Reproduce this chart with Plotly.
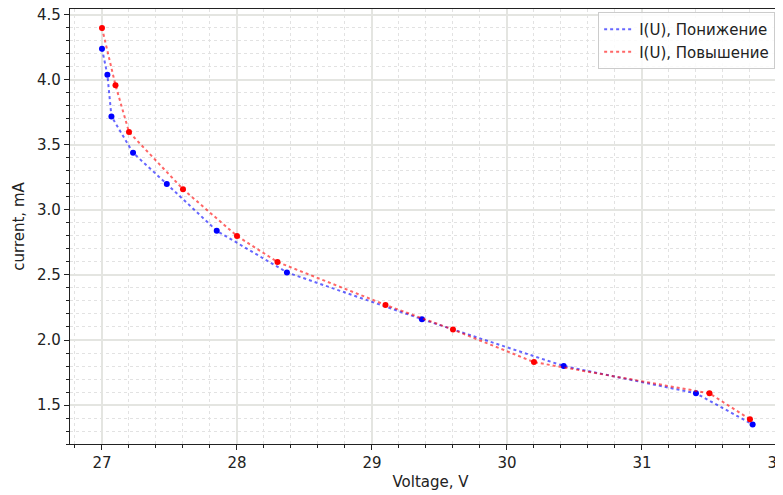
import plotly.graph_objects as go

# Decreasing voltage series (Понижение)
u_down = [27.00, 27.04, 27.07, 27.23, 27.48, 27.85, 28.37, 29.37, 30.42, 31.40, 31.82]
i_down = [4.24, 4.04, 3.72, 3.44, 3.20, 2.84, 2.52, 2.16, 1.80, 1.59, 1.35]

# Increasing voltage series (Повышение)
u_up = [27.00, 27.10, 27.20, 27.60, 28.00, 28.30, 29.10, 29.60, 30.20, 31.50, 31.80]
i_up = [4.40, 3.96, 3.60, 3.16, 2.80, 2.60, 2.27, 2.08, 1.83, 1.59, 1.39]

FONT = "DejaVu Sans"
FS = 15

fig = go.Figure()
fig.add_trace(go.Scatter(
    x=u_down, y=i_down, mode="lines",
    line=dict(color="rgba(0,0,255,0.6)", width=2, dash="dot"),
    name="I(U), Понижение", legendgroup="d"))
fig.add_trace(go.Scatter(
    x=u_down, y=i_down, mode="markers",
    marker=dict(color="blue", size=6),
    showlegend=False, legendgroup="d"))
fig.add_trace(go.Scatter(
    x=u_up, y=i_up, mode="lines",
    line=dict(color="rgba(255,0,0,0.6)", width=2, dash="dot"),
    name="I(U), Повышение", legendgroup="u"))
fig.add_trace(go.Scatter(
    x=u_up, y=i_up, mode="markers",
    marker=dict(color="red", size=6),
    showlegend=False, legendgroup="u"))

axis_common = dict(
    showline=True, linecolor="#222", linewidth=1.2,
    ticks="outside", ticklen=5, tickcolor="#222", tickwidth=1,
    showgrid=True, gridcolor="#e4e5e1", gridwidth=1.5,
    zeroline=False, automargin=False, ticklabeloverflow="allow",
    tickfont=dict(family=FONT, size=FS, color="#222"),
)

fig.update_xaxes(
    **axis_common, mirror=True,
    range=[26.763, 32.104], dtick=1, tick0=27,
    minor=dict(dtick=0.2, tick0=27, ticks="outside", ticklen=3, tickcolor="#222",
               showgrid=True, gridcolor="#e2e2e2", griddash="dot", gridwidth=1),
    title=dict(text="Voltage, V", font=dict(family=FONT, size=FS, color="#222"), standoff=5),
)
fig.update_yaxes(
    **axis_common, mirror=True,
    range=[1.2, 4.546], dtick=0.5, tick0=1.5, tickformat=".1f",
    minor=dict(dtick=0.1, tick0=1.5, ticks="outside", ticklen=3, tickcolor="#222",
               showgrid=True, gridcolor="#e2e2e2", griddash="dot", gridwidth=1),
    title=dict(text="current, mA", font=dict(family=FONT, size=FS, color="#222"), standoff=8),
)

fig.update_layout(
    width=783, height=495,
    margin=dict(l=62, r=0, t=1, b=59, autoexpand=False),
    plot_bgcolor="white", paper_bgcolor="white",
    font=dict(family=FONT, size=FS, color="#222"),
    legend=dict(
        x=0.978, y=0.993, xanchor="right", yanchor="top",
        bgcolor="rgba(255,255,255,0.85)", bordercolor="#cccccc", borderwidth=1,
        font=dict(family=FONT, size=FS, color="#222"),
        tracegroupgap=0,
    ),
)

fig.write_html("out.html")
